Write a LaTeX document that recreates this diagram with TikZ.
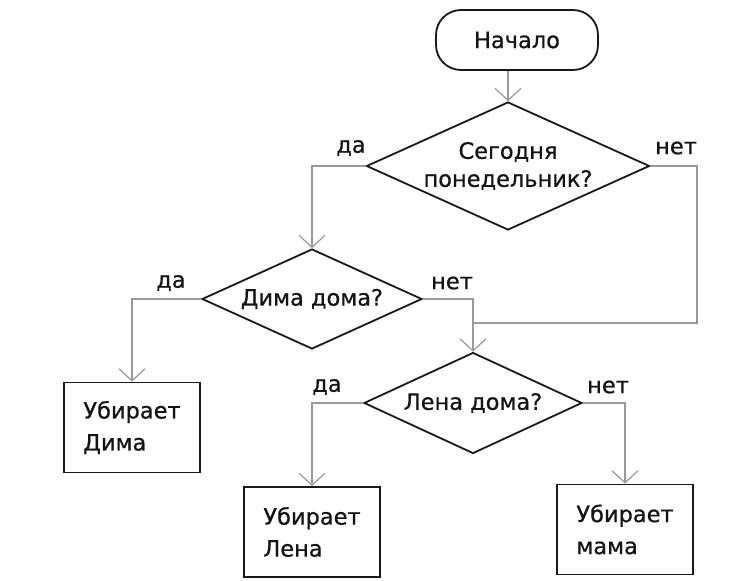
\documentclass[tikz,border=0pt]{standalone}
\usepackage{fontspec}
\setmainfont{DejaVu Sans}[FakeBold=0.7]
\usetikzlibrary{shapes.geometric,arrows.meta}
\begin{document}
\begin{tikzpicture}[x=1pt,y=-1pt,
  every node/.style={font=\fontsize{22.5}{32}\selectfont, text=black!92},
  shapeline/.style={draw=black!90, line width=1.8pt},
  startbox/.style={shapeline, rectangle, rounded corners=25pt, minimum width=162pt, minimum height=60pt},
  decision/.style={shapeline, diamond, inner sep=-14pt, aspect=2.2},
  actbox/.style={shapeline, rectangle, minimum width=136pt, minimum height=90pt, align=left},
  conn/.style={draw=black!40, line width=1.2pt, -{Straight Barb[length=12pt,width=26pt]}},
  plainline/.style={draw=black!40, line width=1.2pt},
  lbl/.style={inner sep=0pt}
]
\useasboundingbox (0,0) rectangle (729,581);

\node[startbox] (start) at (517,40) {Начало};
\node[decision, minimum width=283pt, minimum height=128pt, align=center, font=\fontsize{22.5}{28}\selectfont] (d1) at (508,166) {Сегодня\\понедельник?};
\node[decision, minimum width=220pt, minimum height=100pt] (d2) at (312,299) {Дима дома?};
\node[decision, minimum width=218pt, minimum height=101pt] (d3) at (473,403) {Лена дома?};

\node[actbox] (b1) at (132,427.5) {Убирает\\Дима};
\node[actbox] (b2) at (312,532) {Убирает\\Лена};
\node[actbox] (b3) at (625,529.5) {Убирает\\мама};

\node[lbl] (l1) at (351,148) {да};
\node[lbl] (l2) at (676,148) {нет};
\node[lbl] (l3) at (171,283) {да};
\node[lbl] (l4) at (452,283) {нет};
\node[lbl] (l5) at (327,387) {да};
\node[lbl] (l6) at (608,387) {нет};

\coordinate (mr) at (697,323);
\coordinate (merge) at (473,323);

\draw[conn] (start.south -| d1.north) -- (d1.north);
\draw[conn] (d1.west) -| (d2.north);
\draw[plainline] (d1.east) -| (mr) -- (merge);
\draw[conn] (d2.west) -| (b1.north);
\draw[conn] (d2.east) -| (d3.north);
\draw[conn] (d3.west) -| (b2.north);
\draw[conn] (d3.east) -| (b3.north);
\end{tikzpicture}
\end{document}
